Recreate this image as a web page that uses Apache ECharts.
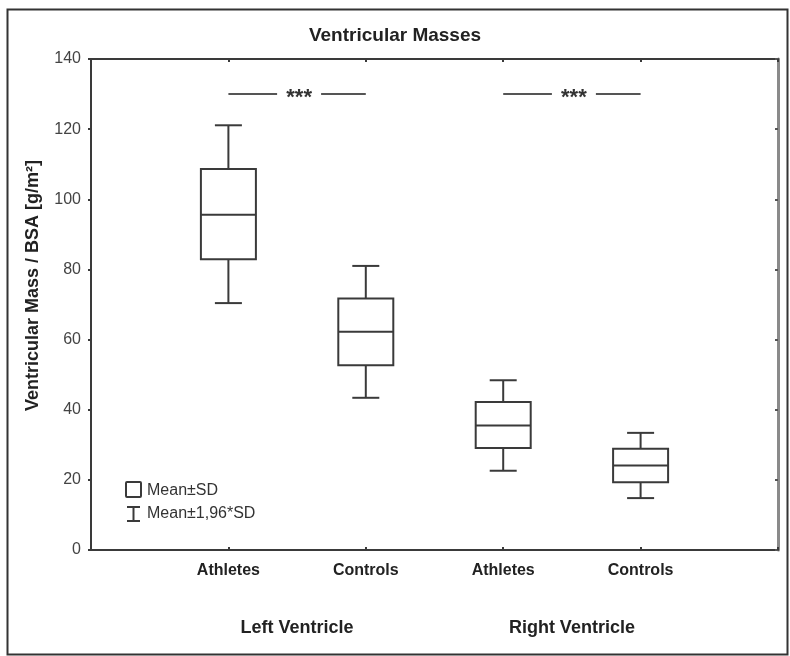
<!DOCTYPE html>
<html>
<head>
<meta charset="utf-8">
<script src="https://cdn.jsdelivr.net/npm/echarts@6/dist/echarts.min.js"></script>
<style>
  html, body { margin: 0; padding: 0; background: #fff; }
  #chart { width: 790px; height: 656px; }
</style>
</head>
<body>
<div id="chart"></div>
<script>
// ---- data ----
const categories = ['Athletes', 'Controls', 'Athletes', 'Controls'];
const groups = ['Left Ventricle', 'Right Ventricle'];
const positions = [1, 2, 3, 4];
const groupPositions = [1.5, 3.5];
const lowerWhisker = [70.4, 43.4, 22.6, 14.8];   // Mean - 1.96*SD
const boxLow = [82.9, 52.7, 29.1, 19.3];         // Mean - SD
const means = [95.6, 62.2, 35.5, 24.1];          // Mean
const boxHigh = [108.6, 71.7, 42.2, 28.9];       // Mean + SD
const upperWhisker = [121.1, 81.0, 48.4, 33.4];  // Mean + 1.96*SD
const sigPairs = [[1, 2], [3, 4]];
const sigLevel = 130;
const sigLabel = '***';
const yTicks = [0, 20, 40, 60, 80, 100, 120, 140];

const FONT = 'Arial, "Liberation Sans", Helvetica, sans-serif';
const LINE = '#3a3a3a';

const boxData = positions.map((p, i) => [p, lowerWhisker[i], boxLow[i], means[i], boxHigh[i], upperWhisker[i]]);
const sigData = sigPairs.map(pr => [pr[0], pr[1], sigLevel]);

const chart = echarts.init(document.getElementById('chart'), null, { renderer: 'canvas' });

function renderBox(params, api) {
  const x = api.value(0);
  const pLo = api.coord([x, api.value(1)]);
  const pQ1 = api.coord([x, api.value(2)]);
  const pM = api.coord([x, api.value(3)]);
  const pQ3 = api.coord([x, api.value(4)]);
  const pHi = api.coord([x, api.value(5)]);
  const half = 27.5, cap = 13.5;
  const style = { stroke: LINE, lineWidth: 2, fill: null };
  return {
    type: 'group',
    children: [
      { type: 'rect', shape: { x: pQ3[0] - half, y: pQ3[1], width: half * 2, height: pQ1[1] - pQ3[1] }, style: { stroke: LINE, lineWidth: 2, fill: '#fff' } },
      { type: 'line', shape: { x1: pM[0] - half, y1: pM[1], x2: pM[0] + half, y2: pM[1] }, style: style },
      { type: 'line', shape: { x1: pQ3[0], y1: pQ3[1], x2: pHi[0], y2: pHi[1] }, style: style },
      { type: 'line', shape: { x1: pQ1[0], y1: pQ1[1], x2: pLo[0], y2: pLo[1] }, style: style },
      { type: 'line', shape: { x1: pHi[0] - cap, y1: pHi[1], x2: pHi[0] + cap, y2: pHi[1] }, style: style },
      { type: 'line', shape: { x1: pLo[0] - cap, y1: pLo[1], x2: pLo[0] + cap, y2: pLo[1] }, style: style }
    ]
  };
}

function renderSig(params, api) {
  const y = api.value(2);
  const p1 = api.coord([api.value(0), y]);
  const p2 = api.coord([api.value(1), y]);
  const mid = (p1[0] + p2[0]) / 2 + 2;
  const gap = 22;
  const style = { stroke: '#555', lineWidth: 2 };
  return {
    type: 'group',
    children: [
      { type: 'line', shape: { x1: p1[0], y1: p1[1], x2: mid - gap, y2: p1[1] }, style: style },
      { type: 'line', shape: { x1: mid + gap, y1: p2[1], x2: p2[0], y2: p2[1] }, style: style },
      { type: 'text', style: { text: sigLabel, x: mid, y: p1[1] + 4, align: 'center', verticalAlign: 'middle', font: 'bold 22px ' + FONT, fill: '#333' } }
    ]
  };
}

const option = {
  backgroundColor: '#fff',
  animation: false,
  title: {
    text: 'Ventricular Masses',
    left: 'center',
    top: 21,
    textStyle: { fontFamily: FONT, fontSize: 19, fontWeight: 'bold', color: '#222' }
  },
  grid: { left: 91, top: 59, right: 12, bottom: 106, show: false },
  xAxis: [
    {
      type: 'value', min: 0, max: 5, interval: 1, position: 'bottom',
      axisLine: { show: true, onZero: false, lineStyle: { color: LINE, width: 2 } },
      axisTick: { show: true, inside: true, length: 3, lineStyle: { color: LINE, width: 2 } },
      splitLine: { show: false },
      axisLabel: {
        margin: 13, fontFamily: FONT, fontSize: 16, fontWeight: 'bold', color: '#222',
        formatter: v => { const i = positions.indexOf(v); return i >= 0 ? categories[i] : ''; }
      }
    },
    {
      type: 'value', min: 0, max: 5, interval: 0.5, position: 'bottom',
      axisLine: { show: false }, axisTick: { show: false }, splitLine: { show: false },
      axisLabel: {
        margin: 69, fontFamily: FONT, fontSize: 18, fontWeight: 'bold', color: '#222',
        formatter: v => { const i = groupPositions.indexOf(v); return i >= 0 ? groups[i] : ''; }
      }
    },
    {
      type: 'value', min: 0, max: 5, interval: 1, position: 'top',
      axisLine: { show: true, onZero: false, lineStyle: { color: LINE, width: 2 } },
      axisTick: { show: true, inside: true, length: 3, lineStyle: { color: LINE, width: 2 } },
      splitLine: { show: false }, axisLabel: { show: false }
    }
  ],
  yAxis: [
    {
      type: 'value', min: 0, max: 140, interval: 20, position: 'left',
      name: 'Ventricular Mass / BSA [g/m²]',
      nameLocation: 'middle', nameGap: 49, nameRotate: 90,
      nameTextStyle: { fontFamily: FONT, fontSize: 18, fontWeight: 'bold', color: '#222', padding: [0, 0, 0, 38] },
      axisLine: { show: true, onZero: false, lineStyle: { color: LINE, width: 2 } },
      axisTick: { show: true, inside: false, length: 3, lineStyle: { color: LINE, width: 2 } },
      splitLine: { show: false },
      axisLabel: {
        margin: 10, fontFamily: FONT, fontSize: 16, color: '#444',
        formatter: v => (yTicks.indexOf(v) >= 0 ? String(v) : '')
      }
    },
    {
      type: 'value', min: 0, max: 140, interval: 20, position: 'right',
      axisLine: { show: true, onZero: false, lineStyle: { color: '#8a8a8a', width: 3 } },
      axisTick: { show: true, inside: true, length: 3, lineStyle: { color: '#555', width: 2 } },
      splitLine: { show: false }, axisLabel: { show: false }
    }
  ],
  series: [
    {
      type: 'custom', name: 'Ventricular Masses', xAxisIndex: 0, yAxisIndex: 0,
      renderItem: renderBox, data: boxData, clip: false,
      encode: { x: 0, y: [1, 2, 3, 4, 5] }
    },
    {
      type: 'custom', name: 'Significance', xAxisIndex: 0, yAxisIndex: 0,
      renderItem: renderSig, data: sigData, clip: false,
      encode: { x: [0, 1], y: 2 }
    }
  ],
  graphic: [
    { type: 'rect', left: 5, top: 7, shape: { width: 780, height: 645 }, style: { fill: null, stroke: '#333', lineWidth: 2 }, z: -10 },
    { type: 'rect', shape: { x: 126, y: 482, width: 15, height: 15, r: 1 }, style: { fill: '#fff', stroke: LINE, lineWidth: 2 } },
    { type: 'text', style: { text: 'Mean±SD', x: 147, y: 491, verticalAlign: 'middle', font: '16px ' + FONT, fill: '#333' } },
    { type: 'line', shape: { x1: 133.5, y1: 507, x2: 133.5, y2: 521 }, style: { stroke: LINE, lineWidth: 2 } },
    { type: 'line', shape: { x1: 127, y1: 507, x2: 140, y2: 507 }, style: { stroke: LINE, lineWidth: 2 } },
    { type: 'line', shape: { x1: 127, y1: 521, x2: 140, y2: 521 }, style: { stroke: LINE, lineWidth: 2 } },
    { type: 'text', style: { text: 'Mean±1,96*SD', x: 147, y: 514, verticalAlign: 'middle', font: '16px ' + FONT, fill: '#333' } }
  ]
};
chart.setOption(option);
</script>
</body>
</html>
